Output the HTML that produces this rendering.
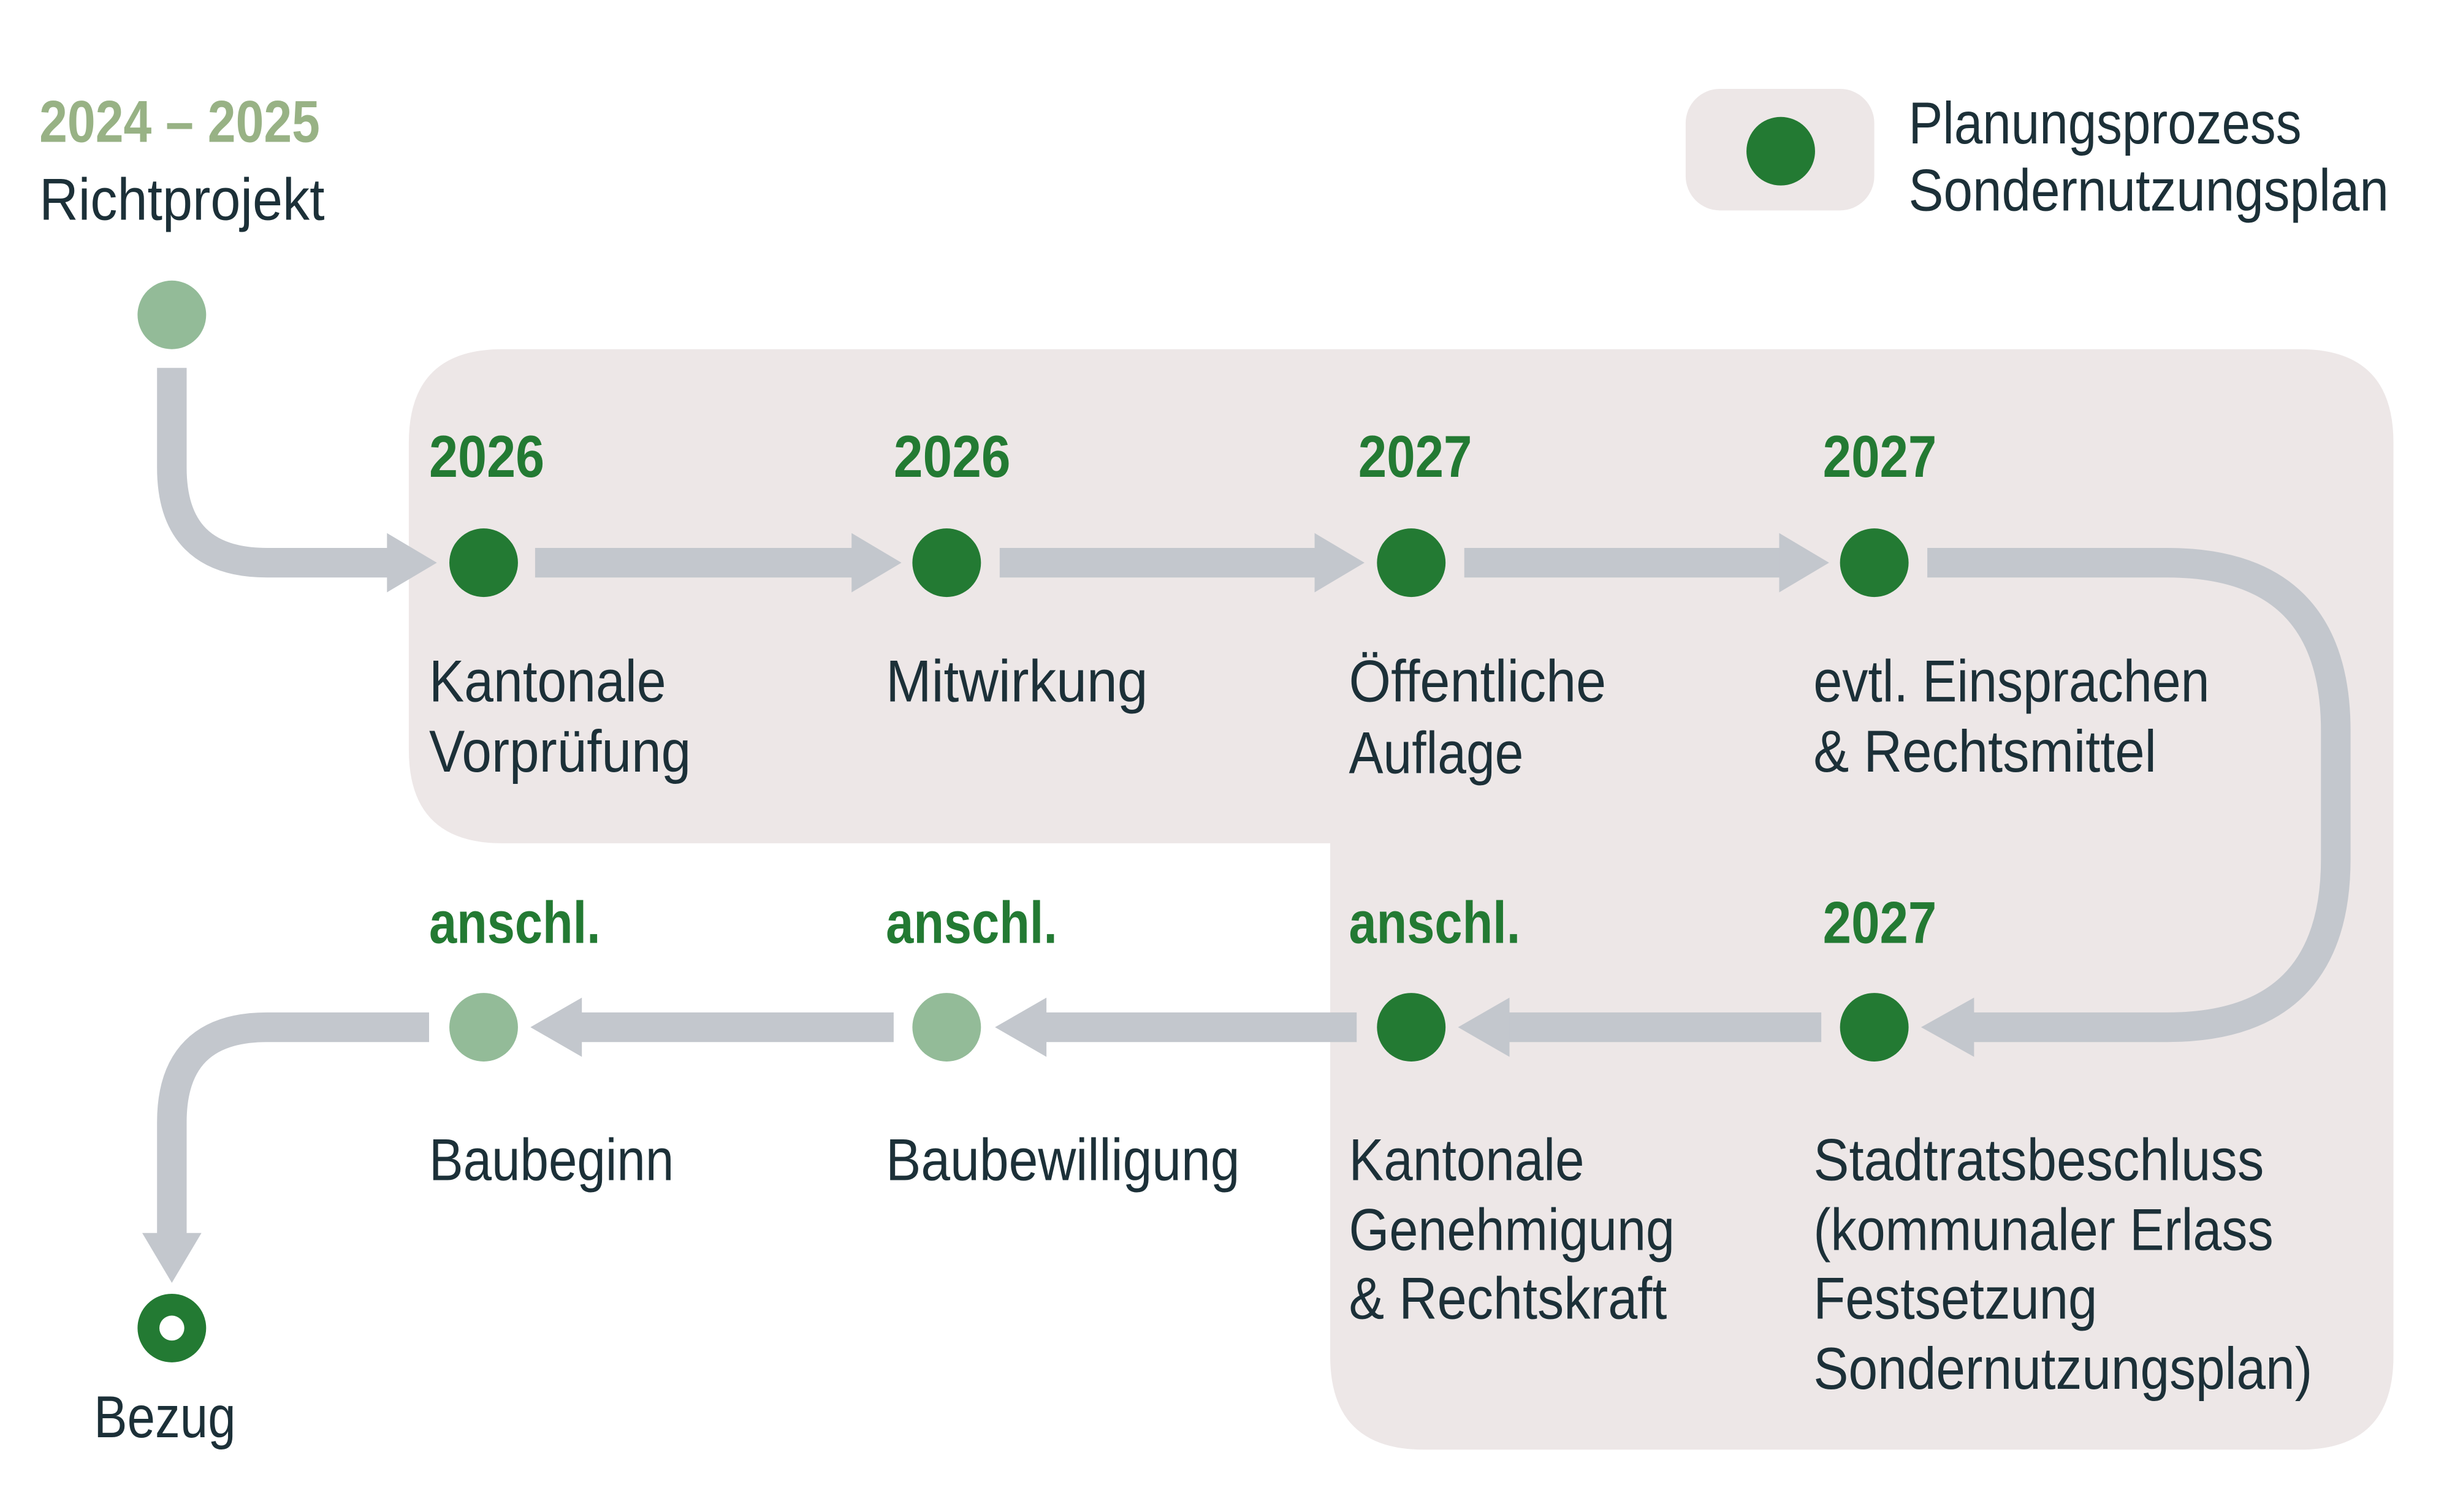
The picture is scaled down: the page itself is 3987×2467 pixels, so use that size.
<!DOCTYPE html>
<html><head><meta charset="utf-8"><style>
html,body{margin:0;padding:0;background:#fff;}
svg{display:block;}
text{font-family:"Liberation Sans",sans-serif;}
.y{font-weight:bold;font-size:38px;fill:#237a33;}
.l{font-size:38px;fill:#1c3038;}
</style></head><body>
<svg width="3987" height="2467" viewBox="0 0 1567.2 970.0" xmlns="http://www.w3.org/2000/svg">
<path d="M322,224 H1475 Q1535,224 1535,284 V870 Q1535,930 1475,930 H913 Q853,930 853,870 V541 H322 Q262,541 262,481 V284 Q262,224 322,224 Z" fill="#ede7e7"/>
<rect x="1081" y="57" width="121" height="78" rx="22" fill="#ede7e7"/>
<circle cx="1142" cy="97" r="22" fill="#237a33"/>
<text class="l" x="1224" y="92" textLength="252" lengthAdjust="spacingAndGlyphs">Planungsprozess</text>
<text class="l" x="1224" y="135" textLength="308" lengthAdjust="spacingAndGlyphs">Sondernutzungsplan</text>

<g fill="none" stroke="#c3c7cd" stroke-width="19">
<path d="M110,236 V300 Q110,361 171,361 H252"/>
<path d="M343,361 H550"/>
<path d="M641,361 H848"/>
<path d="M939,361 H1146"/>
<path d="M1236,361 H1390 Q1498,361 1498,469 V551 Q1498,659 1390,659 H1262"/>
<path d="M1168,659 H962"/>
<path d="M870,659 H665"/>
<path d="M573,659 H367"/>
<path d="M275,659 H171 Q110,659 110,720 V795"/>
</g>
<g fill="#c3c7cd">
<polygon points="248,342 280,361 248,380"/>
<polygon points="546,342 578,361 546,380"/>
<polygon points="843,342 875,361 843,380"/>
<polygon points="1141,342 1173,361 1141,380"/>
<polygon points="1266,640 1232,659 1266,678"/>
<polygon points="968,640 935,659 968,678"/>
<polygon points="671,640 638,659 671,678"/>
<polygon points="373,640 340,659 373,678"/>
<polygon points="91,791 110,823 129,791"/>
</g>

<circle cx="110" cy="202" r="22" fill="#93bb98"/>
<circle cx="310" cy="361" r="22" fill="#237a33"/>
<circle cx="607" cy="361" r="22" fill="#237a33"/>
<circle cx="905" cy="361" r="22" fill="#237a33"/>
<circle cx="1202" cy="361" r="22" fill="#237a33"/>
<circle cx="1202" cy="659" r="22" fill="#237a33"/>
<circle cx="905" cy="659" r="22" fill="#237a33"/>
<circle cx="607" cy="659" r="22" fill="#93bb98"/>
<circle cx="310" cy="659" r="22" fill="#93bb98"/>
<circle cx="110" cy="852" r="22" fill="#237a33"/>
<circle cx="110" cy="852" r="8" fill="#fff"/>

<text class="y" x="25" y="91" style="fill:#98b285" textLength="180" lengthAdjust="spacingAndGlyphs">2024 – 2025</text>
<text class="l" x="25" y="141" textLength="183" lengthAdjust="spacingAndGlyphs">Richtprojekt</text>

<text class="y" x="275" y="306" textLength="74" lengthAdjust="spacingAndGlyphs">2026</text>
<text class="y" x="573" y="306" textLength="75" lengthAdjust="spacingAndGlyphs">2026</text>
<text class="y" x="871" y="306" textLength="73" lengthAdjust="spacingAndGlyphs">2027</text>
<text class="y" x="1169" y="306" textLength="73" lengthAdjust="spacingAndGlyphs">2027</text>

<text class="l" x="275" y="450" textLength="152" lengthAdjust="spacingAndGlyphs">Kantonale</text>
<text class="l" x="275" y="495" textLength="168" lengthAdjust="spacingAndGlyphs">Vorprüfung</text>
<text class="l" x="568" y="450" textLength="168" lengthAdjust="spacingAndGlyphs">Mitwirkung</text>
<text class="l" x="865" y="450" textLength="165" lengthAdjust="spacingAndGlyphs">Öffentliche</text>
<text class="l" x="865" y="496" textLength="112" lengthAdjust="spacingAndGlyphs">Auflage</text>
<text class="l" x="1163" y="450" textLength="254" lengthAdjust="spacingAndGlyphs">evtl. Einsprachen</text>
<text class="l" x="1163" y="495" textLength="220" lengthAdjust="spacingAndGlyphs">&amp; Rechtsmittel</text>

<text class="y" x="275" y="605" textLength="110" lengthAdjust="spacingAndGlyphs">anschl.</text>
<text class="y" x="568" y="605" textLength="110" lengthAdjust="spacingAndGlyphs">anschl.</text>
<text class="y" x="865" y="605" textLength="110" lengthAdjust="spacingAndGlyphs">anschl.</text>
<text class="y" x="1169" y="605" textLength="73" lengthAdjust="spacingAndGlyphs">2027</text>

<text class="l" x="275" y="757" textLength="157" lengthAdjust="spacingAndGlyphs">Baubeginn</text>
<text class="l" x="568" y="757" textLength="227" lengthAdjust="spacingAndGlyphs">Baubewilligung</text>
<text class="l" x="865" y="757" textLength="151" lengthAdjust="spacingAndGlyphs">Kantonale</text>
<text class="l" x="865" y="802" textLength="209" lengthAdjust="spacingAndGlyphs">Genehmigung</text>
<text class="l" x="865" y="846" textLength="204" lengthAdjust="spacingAndGlyphs">&amp; Rechtskraft</text>
<text class="l" x="1163" y="757" textLength="289" lengthAdjust="spacingAndGlyphs">Stadtratsbeschluss</text>
<text class="l" x="1163" y="802" textLength="295" lengthAdjust="spacingAndGlyphs">(kommunaler Erlass</text>
<text class="l" x="1163" y="846" textLength="182" lengthAdjust="spacingAndGlyphs">Festsetzung</text>
<text class="l" x="1163" y="891" textLength="320" lengthAdjust="spacingAndGlyphs">Sondernutzungsplan)</text>

<text class="l" x="60" y="922" textLength="91" lengthAdjust="spacingAndGlyphs">Bezug</text>
</svg>
</body></html>
